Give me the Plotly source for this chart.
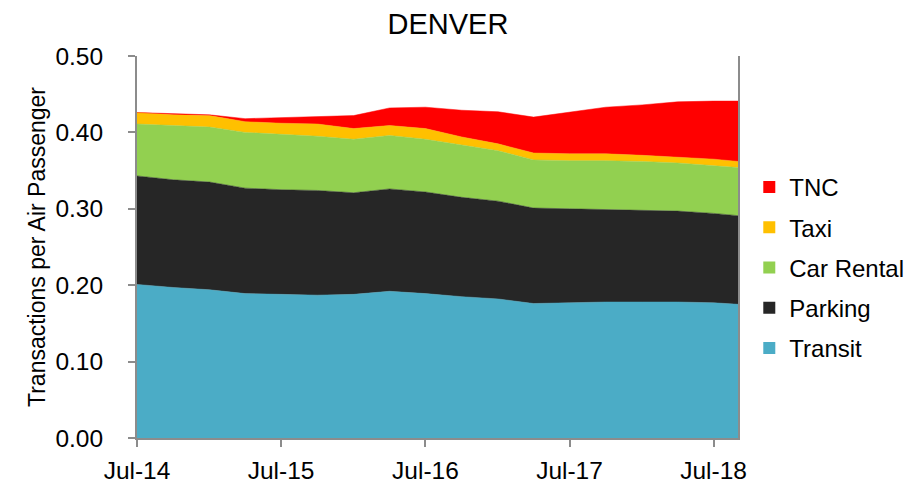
import plotly.graph_objects as go

dates = ["2014-07-01", "2014-10-01", "2015-01-01", "2015-04-01", "2015-07-01", "2015-10-01",
         "2016-01-01", "2016-04-01", "2016-07-01", "2016-10-01", "2017-01-01", "2017-04-01",
         "2017-07-01", "2017-10-01", "2018-01-01", "2018-04-01", "2018-07-01", "2018-09-01"]

transit = [0.201, 0.197, 0.194, 0.189, 0.188, 0.187, 0.188, 0.192, 0.189, 0.185, 0.182, 0.176,
           0.177, 0.178, 0.178, 0.178, 0.177, 0.175]
parking = [0.142, 0.141, 0.141, 0.138, 0.137, 0.137, 0.133, 0.134, 0.133, 0.130, 0.128, 0.125,
           0.123, 0.121, 0.120, 0.119, 0.117, 0.116]
car_rental = [0.068, 0.071, 0.072, 0.073, 0.073, 0.071, 0.070, 0.070, 0.069, 0.068, 0.066, 0.063,
              0.063, 0.064, 0.064, 0.063, 0.063, 0.063]
taxi = [0.015, 0.014, 0.015, 0.014, 0.014, 0.016, 0.014, 0.013, 0.014, 0.011, 0.009, 0.009,
        0.009, 0.009, 0.008, 0.008, 0.008, 0.008]
tnc = [0.000, 0.001, 0.001, 0.004, 0.007, 0.010, 0.017, 0.023, 0.028, 0.035, 0.042, 0.047,
       0.054, 0.061, 0.066, 0.072, 0.076, 0.079]

series_names = ["Transit", "Parking", "Car Rental", "Taxi", "TNC"]
series_values = [transit, parking, car_rental, taxi, tnc]
series_colors = ["#4BACC6", "#262626", "#92D050", "#FFC000", "#FF0000"]

tick_dates = ["2014-07-01", "2015-07-01", "2016-07-01", "2017-07-01", "2018-07-01"]
tick_labels = ["Jul-14", "Jul-15", "Jul-16", "Jul-17", "Jul-18"]

FONT = "Liberation Sans, Arial, sans-serif"
AXIS_GRAY = "#8C8C8C"

fig = go.Figure()
for name, vals, col in zip(series_names, series_values, series_colors):
    fig.add_trace(go.Scatter(
        x=dates, y=vals, name=name, mode="lines", stackgroup="one",
        line=dict(width=0.5, color=col), fillcolor=col, showlegend=False,
        hoverinfo="skip",
    ))

# legend entries as small square swatches, top to bottom: TNC ... Transit
for name, col in reversed(list(zip(series_names, series_colors))):
    fig.add_trace(go.Scatter(
        x=[None], y=[None], name=name, mode="markers", legendgroup=name,
        marker=dict(symbol="square", size=16, color=col, line=dict(width=0)),
    ))

fig.update_layout(
    width=916, height=489,
    margin=dict(l=137, r=178, t=56, b=51, autoexpand=False),
    paper_bgcolor="white", plot_bgcolor="white",
    font=dict(family=FONT, color="black"),
    title=dict(text="DENVER", xref="container", x=0.489, xanchor="center",
               yref="container", y=0.952, yanchor="middle",
               font=dict(size=29, family=FONT)),
    showlegend=True,
    legend=dict(traceorder="grouped", xref="container", x=0.818, xanchor="left",
                y=0.453, yref="container", yanchor="middle",
                font=dict(size=24, family=FONT), itemsizing="constant",
                tracegroupgap=6, bgcolor="rgba(0,0,0,0)"),
    xaxis=dict(type="date", range=["2014-07-01", "2018-09-01"],
               tickvals=tick_dates, ticktext=tick_labels,
               ticks="outside", ticklen=7, tickcolor=AXIS_GRAY, tickwidth=1.5,
               showline=True, linecolor=AXIS_GRAY, linewidth=2,
               showgrid=False, zeroline=False, ticklabelstandoff=3,
               tickfont=dict(size=24.5, family=FONT)),
    yaxis=dict(range=[0, 0.5], dtick=0.1, tickformat=".2f",
               ticks="outside", ticklen=7, tickcolor=AXIS_GRAY, tickwidth=1.5,
               showline=True, linecolor=AXIS_GRAY, linewidth=2, mirror=True,
               showgrid=False, zeroline=False, ticklabelstandoff=20,
               tickfont=dict(size=24.5, family=FONT),
               title=dict(text="Transactions per Air Passenger", standoff=3,
                          font=dict(size=23, family=FONT))),
)

fig.write_html("out.html", config={"displayModeBar": False},
               post_script="document.body.style.margin='0px';")
